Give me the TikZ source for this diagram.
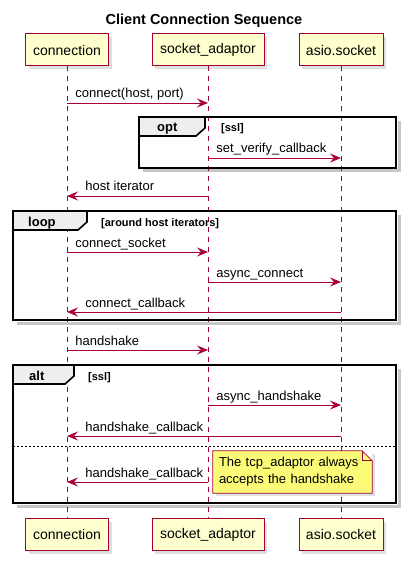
\documentclass[tikz,border=0pt]{standalone}
\usepackage{fontspec}
\setmainfont{Liberation Sans}
\usetikzlibrary{arrows.meta,shadows}
\definecolor{umlred}{HTML}{A80036}
\definecolor{umlbox}{HTML}{FEFECE}
\definecolor{umlnote}{HTML}{FBFB77}
\definecolor{umltab}{HTML}{EEEEEE}
\begin{document}
\begin{tikzpicture}[x=1pt, y=-1pt,
	part/.style={draw=umlred, fill=umlbox, line width=1pt, minimum height=32pt, inner sep=0pt,
		font=\fontsize{14}{16}\selectfont, drop shadow={shadow xshift=3pt, shadow yshift=-3pt, opacity=0.25}},
	life/.style={umlred, line width=0.8pt, dash pattern=on 5pt off 5pt},
	msg/.style={umlred, line width=0.9pt, -{Stealth[length=11pt, width=9pt, inset=4pt]}},
	rlbl/.style={pos=0, anchor=base west, inner sep=0pt, xshift=8pt, yshift=5pt, text=black, font=\fontsize{13}{15}\selectfont},
	llbl/.style={rlbl, pos=1, xshift=10pt},
	frame/.style={draw=black, line width=1.6pt},
	tab/.style={draw=black, fill=umltab, line width=1.6pt},
	shade/.style={black!22, line width=3pt},
	kind/.style={anchor=base west, inner sep=0pt, font=\bfseries\fontsize{13}{15}\selectfont},
	guard/.style={anchor=base west, inner sep=0pt, font=\bfseries\fontsize{11}{13}\selectfont},
	note/.style={fill=umlnote, text width=147pt, minimum height=42pt, inner xsep=6pt, align=left,
		font=\fontsize{13}{17}\selectfont, drop shadow={shadow xshift=3pt, shadow yshift=-3pt, opacity=0.25}}]
	\useasboundingbox (0,0) rectangle (407,561);

	\node[font=\bfseries\fontsize{14.5}{16}\selectfont, anchor=base] (title) at (204,25) {Client Connection Sequence};

	% frame shadows
	\foreach \xa/\ya/\xb/\yb in {139/117/396/168, 13/211/396/320, 13/365/396/503}
		\draw[shade] (\xb+3,\ya+4) -- (\xb+3,\yb+3) -- (\xa+4,\yb+3);

	% participants
	\node[part, minimum width=83pt] at (67, 50) (ConnTop) {connection};
	\node[part, minimum width=112pt] at (208, 50) (SockTop) {socket\_adaptor};
	\node[part, minimum width=84pt] at (341, 50) (AsioTop) {asio.socket};
	\node[part, minimum width=83pt] at (67, 534.5) (ConnBot) {connection};
	\node[part, minimum width=112pt] at (208, 534.5) (SockBot) {socket\_adaptor};
	\node[part, minimum width=84pt] at (341, 534.5) (AsioBot) {asio.socket};

	\draw[life] (ConnTop) -- (ConnBot);
	\draw[life] (SockTop) -- (SockBot);
	\draw[life] (AsioTop) -- (AsioBot);

	% frames
	\draw[frame] (139,117) rectangle (396,168);
	\draw[tab] (139,117) -- (205,117) -- (205,128) -- (196,136) -- (139,136) -- cycle;
	\node[kind] (optK) at (157,132) {opt};
	\node[guard] (optG) at (221,132) {[ssl]};

	\draw[frame] (13,211) rectangle (396,320);
	\draw[tab] (13,211) -- (87,211) -- (87,222) -- (78,230) -- (13,230) -- cycle;
	\node[kind] (loopK) at (28,226) {loop};
	\node[guard] (loopG) at (101,226) {[around host iterators]};

	\draw[frame] (13,365) rectangle (396,503);
	\draw[tab] (13,365) -- (74,365) -- (74,376) -- (65,384) -- (13,384) -- cycle;
	\node[kind] (altK) at (29,380) {alt};
	\node[guard] (altG) at (88,380) {[ssl]};
	\draw[black, line width=0.8pt, dash pattern=on 2pt off 2pt] (13,446) -- (396,446);

	% message rows
	\foreach \r/\y in {1/103, 2/158, 3/196, 4/252, 5/282, 6/312, 7/350, 8/405, 9/436, 10/482} {
		\coordinate (A\r) at (ConnTop |- 0,\y);
		\coordinate (B\r) at (SockTop |- 0,\y);
		\coordinate (C\r) at (AsioTop |- 0,\y);
	}

	\draw[msg] (A1) -- node[rlbl] (m1) {connect(host, port)} (B1);
	\draw[msg] (B2) -- node[rlbl] (m2) {set\_verify\_callback} (C2);
	\draw[msg] (B3) -- node[llbl] (m3) {host iterator} (A3);
	\draw[msg] (A4) -- node[rlbl] (m4) {connect\_socket} (B4);
	\draw[msg] (B5) -- node[rlbl] (m5) {async\_connect} (C5);
	\draw[msg] (C6) -- node[llbl] (m6) {connect\_callback} (A6);
	\draw[msg] (A7) -- node[rlbl] (m7) {handshake} (B7);
	\draw[msg] (B8) -- node[rlbl] (m8) {async\_handshake} (C8);
	\draw[msg] (C9) -- node[llbl] (m9) {handshake\_callback} (A9);
	\draw[msg] (B10) -- node[llbl] (m10) {handshake\_callback} (A10);

	% note
	\node[note] at (292.5,472) (tcpNote) {The tcp\_adaptor always\\accepts the handshake};
	\fill[white] (tcpNote.north east) -- ++(-10,0) -- ++(10,10) -- cycle;
	\draw[umlred, line width=0.8pt] (tcpNote.north west) -- ([xshift=-10pt]tcpNote.north east)
		-- ([yshift=-10pt]tcpNote.north east) -- (tcpNote.south east) -- (tcpNote.south west) -- cycle;
	\draw[umlred, line width=0.8pt] ([xshift=-10pt]tcpNote.north east) |- ([yshift=-10pt]tcpNote.north east);
\end{tikzpicture}
\end{document}
